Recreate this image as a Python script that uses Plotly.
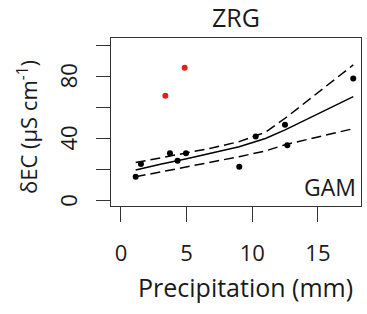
import plotly.graph_objects as go

# Observed data
obs_x = [1.12, 1.52, 3.73, 4.31, 4.95, 9.01, 10.26, 12.49, 12.67, 17.69]
obs_y = [15.4, 23.6, 30.5, 25.7, 30.5, 21.9, 41.2, 48.9, 35.6, 78.5]
out_x = [3.38, 4.85]
out_y = [67.5, 85.5]

# GAM fit and confidence band
fit_x = [1.12, 3, 5, 7, 9, 11, 12.5, 15, 17.69]
fit_y = [19.7, 23.5, 27.0, 31.0, 34.7, 40.0, 45.5, 55.8, 66.9]
up_y = [24.5, 27.5, 30.5, 34.0, 38.0, 44.0, 53.0, 69.6, 87.3]
lo_y = [15.4, 18.5, 21.5, 25.0, 28.3, 32.0, 36.0, 41.0, 46.3]

xticks = [0, 5, 10, 15]
yticks = [0, 20, 40, 60, 80, 100]
ylabel_vals = [0, 40, 80]

FONT = "Open Sans"
fig = go.Figure()
dash = "10px,5px"
fig.add_trace(go.Scatter(x=fit_x, y=up_y, mode="lines",
                         line=dict(color="black", width=1.5, dash=dash)))
fig.add_trace(go.Scatter(x=fit_x, y=lo_y, mode="lines",
                         line=dict(color="black", width=1.5, dash=dash)))
fig.add_trace(go.Scatter(x=fit_x, y=fit_y, mode="lines",
                         line=dict(color="black", width=1.5)))
fig.add_trace(go.Scatter(x=obs_x, y=obs_y, mode="markers",
                         marker=dict(color="black", size=6)))
fig.add_trace(go.Scatter(x=out_x, y=out_y, mode="markers",
                         marker=dict(color="#e0201b", size=6)))

fig.update_layout(
    width=367, height=314,
    margin=dict(l=111, r=6, t=38, b=108),
    paper_bgcolor="white", plot_bgcolor="white",
    showlegend=False,
    font=dict(family=FONT, color="#1a1a1a", size=22),
    xaxis=dict(range=[-0.76, 18.28], tickvals=xticks, ticks="outside",
               ticklen=15, tickwidth=1.2, tickcolor="#333",
               showline=True, linecolor="#333", linewidth=1.3, mirror=True,
               showgrid=False, zeroline=False, ticklabelstandoff=12,
               tickfont=dict(size=22)),
    yaxis=dict(range=[-3.4, 104.6], tickvals=yticks, showticklabels=False,
               ticks="outside", ticklen=14, tickwidth=1.2, tickcolor="#333",
               showline=True, linecolor="#333", linewidth=1.3, mirror=True,
               showgrid=False, zeroline=False),
)

# y tick labels (rotated, as in base R), placed against the y axis values
L, R, T, B = 111, 361, 38, 206
for v in ylabel_vals:
    fig.add_annotation(text=str(v), xref="paper", yref="y",
                       x=(68 - L) / (R - L), y=v, textangle=-90,
                       xanchor="center", yanchor="middle",
                       showarrow=False, font=dict(size=22))

# other texts placed by pixel position, converted to paper coords
labels = [
    ("ZRG", 236, 17, 25, 0),
    ("GAM", 329.5, 186.5, 23, 0),
    ("Precipitation (mm)", 245, 287, 25, 0),
    ("δEC (µS cm<sup>-1</sup>)", 27.5, 127.5, 22, -90),
]
for text, px, py, size, ang in labels:
    fig.add_annotation(text=text, xref="paper", yref="paper",
                       x=(px - L) / (R - L), y=(B - py) / (B - T),
                       xanchor="center", yanchor="middle", textangle=ang,
                       showarrow=False, font=dict(size=size))

fig.write_html("out.html", config={"displayModeBar": False},
               post_script="document.body.style.margin='0';document.body.style.padding='0';")
